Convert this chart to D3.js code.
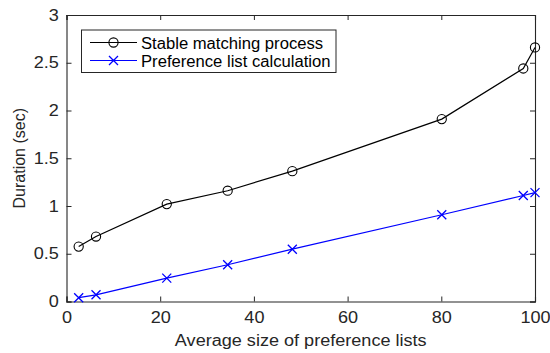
<!DOCTYPE html>
<html>
<head>
<meta charset="utf-8">
<script src="https://cdn.jsdelivr.net/npm/d3@7"></script>
<style>
body { margin: 0; background: #fff; }
text { font-family: "Liberation Sans", Arial, sans-serif; fill: #262626; }
</style>
</head>
<body>
<div id="chart"></div>
<script>
// average size of preference lists
const sizes = [2.6, 6.3, 21.4, 34.4, 48.2, 80.1, 97.5, 100]
const stableTimes = [0.575, 0.68, 1.02, 1.16, 1.365, 1.91, 2.44, 2.66]
const prefTimes = [0.04, 0.07, 0.245, 0.385, 0.548, 0.908, 1.11, 1.14]
const xTicks = [0, 20, 40, 60, 80, 100]
const yTicks = [0, 0.5, 1, 1.5, 2, 2.5, 3]
const seriesNames = ["Stable matching process", "Preference list calculation"]

const width = 550, height = 353
const margin = {left: 66.5, right: 15, top: 15, bottom: 51.5}
const axisColor = "#262626"
const fontSize = 16
const stretch = 1.13 // the reference text is a bit wider than Arial

const svg = d3.select("#chart").append("svg")
	.attr("width", width)
	.attr("height", height)

const x = d3.scaleLinear().domain([0, 100]).range([margin.left, width - margin.right])
const y = d3.scaleLinear().domain([0, 3]).range([height - margin.bottom, margin.top])

const tickLen = 5

// bottom axis
const gx = svg.append("g").attr("transform", `translate(0,${y(0)})`)
	.call(d3.axisBottom(x).tickValues(xTicks).tickSize(-tickLen).tickPadding(10).tickFormat(d3.format("d")))
// top axis (mirror)
const gxt = svg.append("g").attr("transform", `translate(0,${y(3)})`)
	.call(d3.axisTop(x).tickValues(xTicks).tickSize(-tickLen).tickFormat(""))
// left axis
const gy = svg.append("g").attr("transform", `translate(${x(0)},0)`)
	.call(d3.axisLeft(y).tickValues(yTicks).tickSize(-tickLen).tickPadding(6.8).tickFormat(d => d))
// right axis (mirror)
const gyr = svg.append("g").attr("transform", `translate(${x(100)},0)`)
	.call(d3.axisRight(y).tickValues(yTicks).tickSize(-tickLen).tickFormat(""))

for (const g of [gx, gxt, gy, gyr]) {
	g.select(".domain").attr("stroke", axisColor).attr("stroke-width", 1.1)
	g.selectAll(".tick line").attr("stroke", axisColor).attr("stroke-width", 1)
	g.selectAll(".tick text").attr("font-size", fontSize).style("fill", axisColor)
		.style("font-family", "Liberation Sans, Arial, sans-serif")
		.attr("transform", `scale(${stretch},1)`)
}

// axis labels
svg.append("text")
	.attr("transform", `translate(${(x(0) + x(100)) / 2},345.5) scale(${stretch},1)`)
	.attr("text-anchor", "middle")
	.attr("font-size", fontSize)
	.text("Average size of preference lists")

svg.append("text")
	.attr("transform", `translate(25,${(y(0) + y(3)) / 2}) rotate(-90)`)
	.attr("text-anchor", "middle")
	.attr("font-size", fontSize)
	.text("Duration (sec)")

const line = d3.line()

function drawSeries(vals, color, marker) {
	const pts = sizes.map((s, i) => [x(s), y(vals[i])])
	svg.append("path")
		.attr("d", line(pts))
		.attr("fill", "none")
		.attr("stroke", color)
		.attr("stroke-width", 1.2)
	const g = svg.append("g")
	pts.forEach(p => drawMarker(g, p[0], p[1], color, marker))
}

function drawMarker(g, cx, cy, color, marker) {
	if (marker == "o") {
		g.append("circle")
			.attr("cx", cx).attr("cy", cy).attr("r", 4.6)
			.attr("fill", "none").attr("stroke", color).attr("stroke-width", 1.1)
	} else {
		const s = 4.5
		g.append("path")
			.attr("d", `M${cx - s},${cy - s}L${cx + s},${cy + s}M${cx - s},${cy + s}L${cx + s},${cy - s}`)
			.attr("stroke", color).attr("stroke-width", 1.3).attr("fill", "none")
	}
}

drawSeries(stableTimes, "#000000", "o")
drawSeries(prefTimes, "#0000ff", "x")

// legend
const legend = svg.append("g")
legend.append("rect")
	.attr("x", 81.5).attr("y", 30)
	.attr("width", 254.5).attr("height", 42.5)
	.attr("fill", "#fff").attr("stroke", axisColor).attr("stroke-width", 1)

const legendRows = [
	{name: seriesNames[0], color: "#000000", marker: "o", y: 42.5},
	{name: seriesNames[1], color: "#0000ff", marker: "x", y: 60.5}
]
legendRows.forEach(r => {
	legend.append("line")
		.attr("x1", 90).attr("x2", 137)
		.attr("y1", r.y).attr("y2", r.y)
		.attr("stroke", r.color).attr("stroke-width", 1.2)
	drawMarker(legend, 113.5, r.y, r.color, r.marker)
	legend.append("text")
		.attr("transform", `translate(141,${r.y + 6}) scale(1.04,1)`)
		.attr("font-size", fontSize)
		.style("fill", "#000")
		.text(r.name)
})
</script>
</body>
</html>
